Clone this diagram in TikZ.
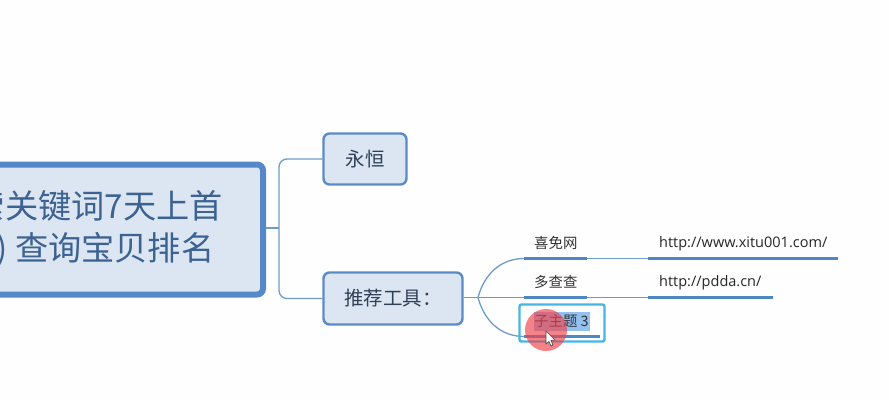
\documentclass[tikz,border=0pt]{standalone}
\usepackage{fontspec}
\newfontfamily\cjk{Noto Sans CJK SC}
\newfontfamily\latinf{Open Sans}
\definecolor{boxfill}{HTML}{DCE6F2}
\definecolor{boxline}{HTML}{5B8BC6}
\definecolor{mainline}{HTML}{5588C8}
\definecolor{maintext}{HTML}{3C6291}
\definecolor{subtext}{HTML}{2F3F55}
\definecolor{conn}{HTML}{6F9BCB}
\definecolor{bar}{HTML}{4F86C6}
\definecolor{sel}{HTML}{45B6E6}
\definecolor{hl}{HTML}{93C1F0}
\definecolor{dot}{HTML}{F0424A}
\definecolor{bg}{HTML}{FEFEFE}
\tikzset{
  x=1pt,y=-1pt,
  mainbox/.style={draw=mainline,fill=boxfill,line width=6pt,rounded corners=6pt,inner sep=0pt},
  mainlabel/.style={text=maintext,inner sep=0pt,font=\cjk\fontsize{33.2}{38}\selectfont},
  topicbox/.style={draw=boxline,fill=boxfill,line width=2.4pt,rounded corners=6pt,inner sep=0pt,text=subtext,font=\cjk\fontsize{19.5}{23}\selectfont},
  sublabel/.style={inner sep=0pt,text=black!80,font=\cjk\fontsize{14.4}{17}\selectfont},
  urllabel/.style={inner sep=0pt,text=black!85,font=\latinf\fontsize{14.5}{17}\selectfont},
  thin conn/.style={draw=conn,line width=1.3pt},
  barline/.style={draw=bar,line width=3.5pt},
}
\begin{document}
\begin{tikzpicture}
\clip (0,0) rectangle (889,400);
\fill[bg] (0,0) rectangle (889,400);

% nodes
\node[mainbox,minimum width=290pt,minimum height=130pt] (main) at (118,229.5) {};
\node[topicbox,minimum width=83pt,minimum height=51pt] (yh) at (365,159) {\raisebox{1.5pt}{永恒}};
\node[topicbox,minimum width=139pt,minimum height=52pt] (tj) at (393,298.5) {\raisebox{1.5pt}{推荐工具：}};
\coordinate (hub) at (279,228);
\coordinate (fork) at (478,297.5);
\draw[thin conn] (main.east |- hub) -- (hub);
\draw[thin conn,rounded corners=8pt] (yh.west) -| (hub) |- (tj.west);
\draw[thin conn] (tj.east |- fork) -- (fork);

% underline bars
\coordinate (a0) at (524,258.5); \coordinate (a1) at (587,258.5);
\coordinate (a2) at (648,258.5); \coordinate (a3) at (838,258.5);
\coordinate (b0) at (524,297.5); \coordinate (b1) at (587,297.5);
\coordinate (b2) at (648,297.5); \coordinate (b3) at (773,297.5);
\coordinate (c0) at (524,336.5); \coordinate (c1) at (600,336.5);

\draw[thin conn] (fork) .. controls (484,275) and (500,258.5) .. (a0);
\draw[thin conn] (fork) -- (b0);
\draw[thin conn] (fork) .. controls (484,320) and (500,336.5) .. (c0);
\draw[thin conn] (a1) -- (a2);
\draw[thin conn] (b1) -- (b2);
\draw[barline] (a0) -- (a1);
\draw[barline] (a2) -- (a3);
\draw[barline] (b0) -- (b1);
\draw[barline] (b2) -- (b3);

% selected topic
\node[draw=sel,line width=2.4pt,rounded corners=2pt,minimum width=85pt,minimum height=37pt,inner sep=0pt] (selbox) at (562,323) {};
\fill[hl] (534,312) rectangle (590,331);
\draw[barline] (c0) -- (c1);
\node[sublabel,anchor=west] (t3) at (534,321) {子主题 3};

% main text
\node[mainlabel,anchor=east] (l1) at (223,206) {索关键词7天上首};
\node[mainlabel,anchor=east] (l2) at (214.5,250) {) 查询宝贝排名};

% labels
\node[sublabel,anchor=west] (xm) at (534,243) {喜免网};
\node[sublabel,anchor=west] (dc) at (534,282) {多查查};
\node[urllabel,anchor=west] (u1) at (659,244) {http://www.xitu001.com/};
\node[urllabel,anchor=west] (u2) at (659,283) {http://pdda.cn/};

% pointer highlight
\fill[dot,opacity=.66] (546,330) circle (21);
\draw[fill=white,draw=black!70,line width=.7pt,line join=round]
  (546,331) -- (546,344) -- (549,341.5) -- (551,346) -- (553,345) -- (551,340.5) -- (555,340) -- cycle;
\end{tikzpicture}
\end{document}
